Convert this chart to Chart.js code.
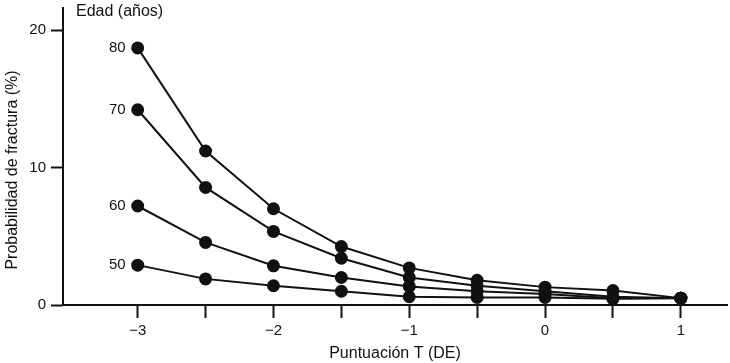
<!DOCTYPE html>
<html>
<head>
<meta charset="utf-8">
<script src="https://cdn.jsdelivr.net/npm/chart.js@4.4.0/dist/chart.umd.min.js"></script>
<style>
  html, body { margin: 0; padding: 0; background: #fff; }
  #wrap { width: 730px; height: 363px; }
</style>
</head>
<body>
<div id="wrap"><canvas id="chart"></canvas></div>
<script>
// T-score points (SD)
const tScores = [-3, -2.5, -2, -1.5, -1, -0.5, 0, 0.5, 1];
const xTicks = [-3, -2.5, -2, -1.5, -1, -0.5, 0, 0.5, 1];
const yTicks = [0, 10, 20];

// fracture probability (%) per age
const ages = ['80', '70', '60', '50'];
const age80 = [18.7, 11.2, 7.0, 4.25, 2.7, 1.8, 1.3, 1.05, 0.5];
const age70 = [14.2, 8.55, 5.35, 3.4, 2.0, 1.4, 1.0, 0.6, 0.5];
const age60 = [7.2, 4.55, 2.85, 2.0, 1.35, 1.0, 0.8, 0.5, 0.5];
const age50 = [2.9, 1.9, 1.4, 1.0, 0.6, 0.55, 0.55, 0.45, 0.5];

const ink = '#111';
const font = 'Liberation Sans, Arial, Helvetica, sans-serif';

function toPoints(vals) {
    return vals.map((v, i) => ({ x: tScores[i], y: v }));
}

function fmt(v) {
    if (v === 0) return '0';
    return v < 0 ? '\u2212' + Math.abs(v) : String(v);
}

const seriesVals = [age80, age70, age60, age50];
const datasets = seriesVals.map((vals, i) => ({
    label: ages[i],
    data: toPoints(vals),
    borderColor: ink,
    backgroundColor: ink,
    borderWidth: 2,
    pointRadius: 5.5,
    pointHoverRadius: 5.5,
    tension: 0,
    fill: false,
    clip: false,
}));

// labels next to first point, legend title and y-axis title
const annotations = {
    id: 'annotations',
    afterDatasetsDraw(chart) {
        const c = chart.ctx;
        c.save();
        c.fillStyle = ink;
        c.font = '15px ' + font;
        c.textBaseline = 'middle';
        c.textAlign = 'right';
        chart.data.datasets.forEach((ds, i) => {
            const pt = chart.getDatasetMeta(i).data[0];
            c.fillText(ds.label, pt.x - 12, pt.y);
        });
        c.font = '16px ' + font;
        c.textAlign = 'left';
        c.fillText('Edad (años)', chart.chartArea.left + 13, 12);
        c.translate(13, 170);
        c.rotate(-Math.PI / 2);
        c.textAlign = 'center';
        c.fillText('Probabilidad de fractura (%)', 0, 0);
        c.restore();
    }
};

const ctx = document.getElementById('chart').getContext('2d');
new Chart(ctx, {
    type: 'line',
    data: { datasets: datasets },
    options: {
        responsive: true,
        maintainAspectRatio: false,
        animation: false,
        layout: { autoPadding: false, padding: { top: 8, right: 3, left: 0, bottom: 0 } },
        plugins: {
            legend: { display: false },
            tooltip: { enabled: false },
        },
        scales: {
            x: {
                type: 'linear',
                min: -3.55,
                max: 1.34,
                afterBuildTicks: (scale) => {
                    scale.ticks = xTicks.map(v => ({ value: v }));
                },
                afterFit: (scale) => {
                    scale.height = 58;
                    scale.paddingLeft = 0;
                    scale.paddingRight = 0;
                },
                border: { display: true, color: ink, width: 2 },
                grid: {
                    drawOnChartArea: false,
                    drawTicks: true,
                    tickLength: 13,
                    tickWidth: 2,
                    tickColor: ink,
                },
                ticks: {
                    autoSkip: false,
                    maxRotation: 0,
                    padding: 4,
                    color: ink,
                    font: { family: font, size: 15 },
                    callback: (v) => Number.isInteger(v) ? fmt(v) : '',
                },
                title: {
                    display: true,
                    text: 'Puntuación T (DE)',
                    color: ink,
                    font: { family: font, size: 16 },
                    padding: { top: 1, bottom: 0 },
                },
            },
            y: {
                type: 'linear',
                min: 0,
                max: 21.6,
                afterBuildTicks: (scale) => {
                    scale.ticks = yTicks.map(v => ({ value: v }));
                },
                afterFit: (scale) => {
                    scale.width = 63;
                    scale.paddingTop = 0;
                    scale.paddingBottom = 0;
                },
                border: { display: true, color: ink, width: 2 },
                grid: {
                    drawOnChartArea: false,
                    drawTicks: true,
                    tickLength: 12,
                    tickWidth: 2,
                    tickColor: ink,
                },
                ticks: {
                    padding: 5,
                    color: ink,
                    font: { family: font, size: 15 },
                    callback: (v) => fmt(v),
                },
            },
        },
    },
    plugins: [annotations],
});
</script>
</body>
</html>
